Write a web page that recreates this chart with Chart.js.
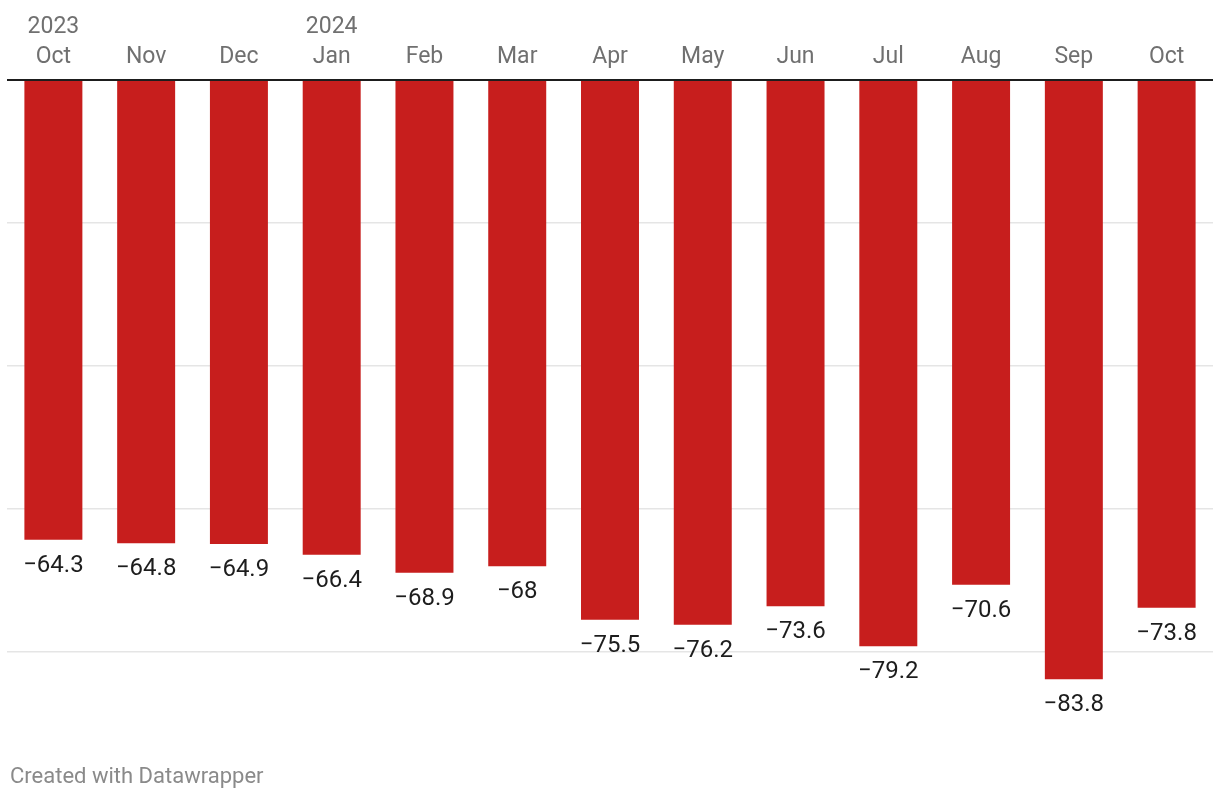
<!DOCTYPE html>
<html>
<head>
<meta charset="utf-8">
<script src="https://cdn.jsdelivr.net/npm/chart.js@4.4.1/dist/chart.umd.min.js"></script>
<style>
  html, body { margin: 0; padding: 0; background: #fff; }
  #wrap { position: relative; width: 1220px; height: 800px; }
</style>
</head>
<body>
<div id="wrap"><canvas id="chart"></canvas></div>
<script>
const months = ['Oct', 'Nov', 'Dec', 'Jan', 'Feb', 'Mar', 'Apr', 'May', 'Jun', 'Jul', 'Aug', 'Sep', 'Oct'];
const years = ['2023', '', '', '2024', '', '', '', '', '', '', '', '', ''];
const values = [-64.3, -64.8, -64.9, -66.4, -68.9, -68, -75.5, -76.2, -73.6, -79.2, -70.6, -83.8, -73.8];
const yTicks = [0, -20, -40, -60, -80];

const labels = months.map((m, i) => [years[i], m]);

const fmt = v => String(v).replace('-', '\u2212');

// value labels under each bar + footer note
const extras = {
  id: 'extras',
  afterDatasetsDraw(chart) {
    const ctx = chart.ctx;
    const meta = chart.getDatasetMeta(0);
    ctx.save();
    ctx.font = '24px Roboto';
    ctx.fillStyle = '#1d1d1d';
    ctx.textAlign = 'center';
    ctx.textBaseline = 'middle';
    meta.data.forEach((bar, i) => {
      ctx.fillText(fmt(values[i]), bar.x, bar.y + 26);
    });
    ctx.font = '22px Roboto';
    ctx.fillStyle = '#8a8a8a';
    ctx.textAlign = 'left';
    ctx.fillText('Created with Datawrapper', 10, 777);
    ctx.restore();
  }
};

new Chart(document.getElementById('chart'), {
  type: 'bar',
  data: {
    labels: labels,
    datasets: [{
      data: values,
      backgroundColor: '#c71e1d',
      borderWidth: 0,
      categoryPercentage: 1,
      barPercentage: 0.625
    }]
  },
  options: {
    responsive: true,
    maintainAspectRatio: false,
    animation: false,
    layout: { padding: { left: 7, right: 7, top: 0, bottom: 76.5 } },
    plugins: { legend: { display: false }, tooltip: { enabled: false } },
    scales: {
      x: {
        position: 'top',
        grid: { display: false },
        border: { display: false },
        afterFit: s => { s.height = 80; },
        ticks: {
          color: '#707070',
          font: { family: 'Roboto', size: 23, lineHeight: 1.3 },
          padding: 0,
          maxRotation: 0,
          autoSkip: false
        }
      },
      y: {
        min: -90,
        max: 0,
        afterFit: s => { s.width = 0; },
        afterBuildTicks: s => { s.ticks = yTicks.map(v => ({ value: v })); },
        border: { display: false },
        ticks: { display: false },
        grid: {
          drawTicks: false,
          color: c => c.tick && c.tick.value === 0 ? '#1d1d1d' : '#e5e5e5',
          lineWidth: c => c.tick && c.tick.value === 0 ? 2 : 1.5
        }
      }
    }
  },
  plugins: [extras]
});
</script>
</body>
</html>
